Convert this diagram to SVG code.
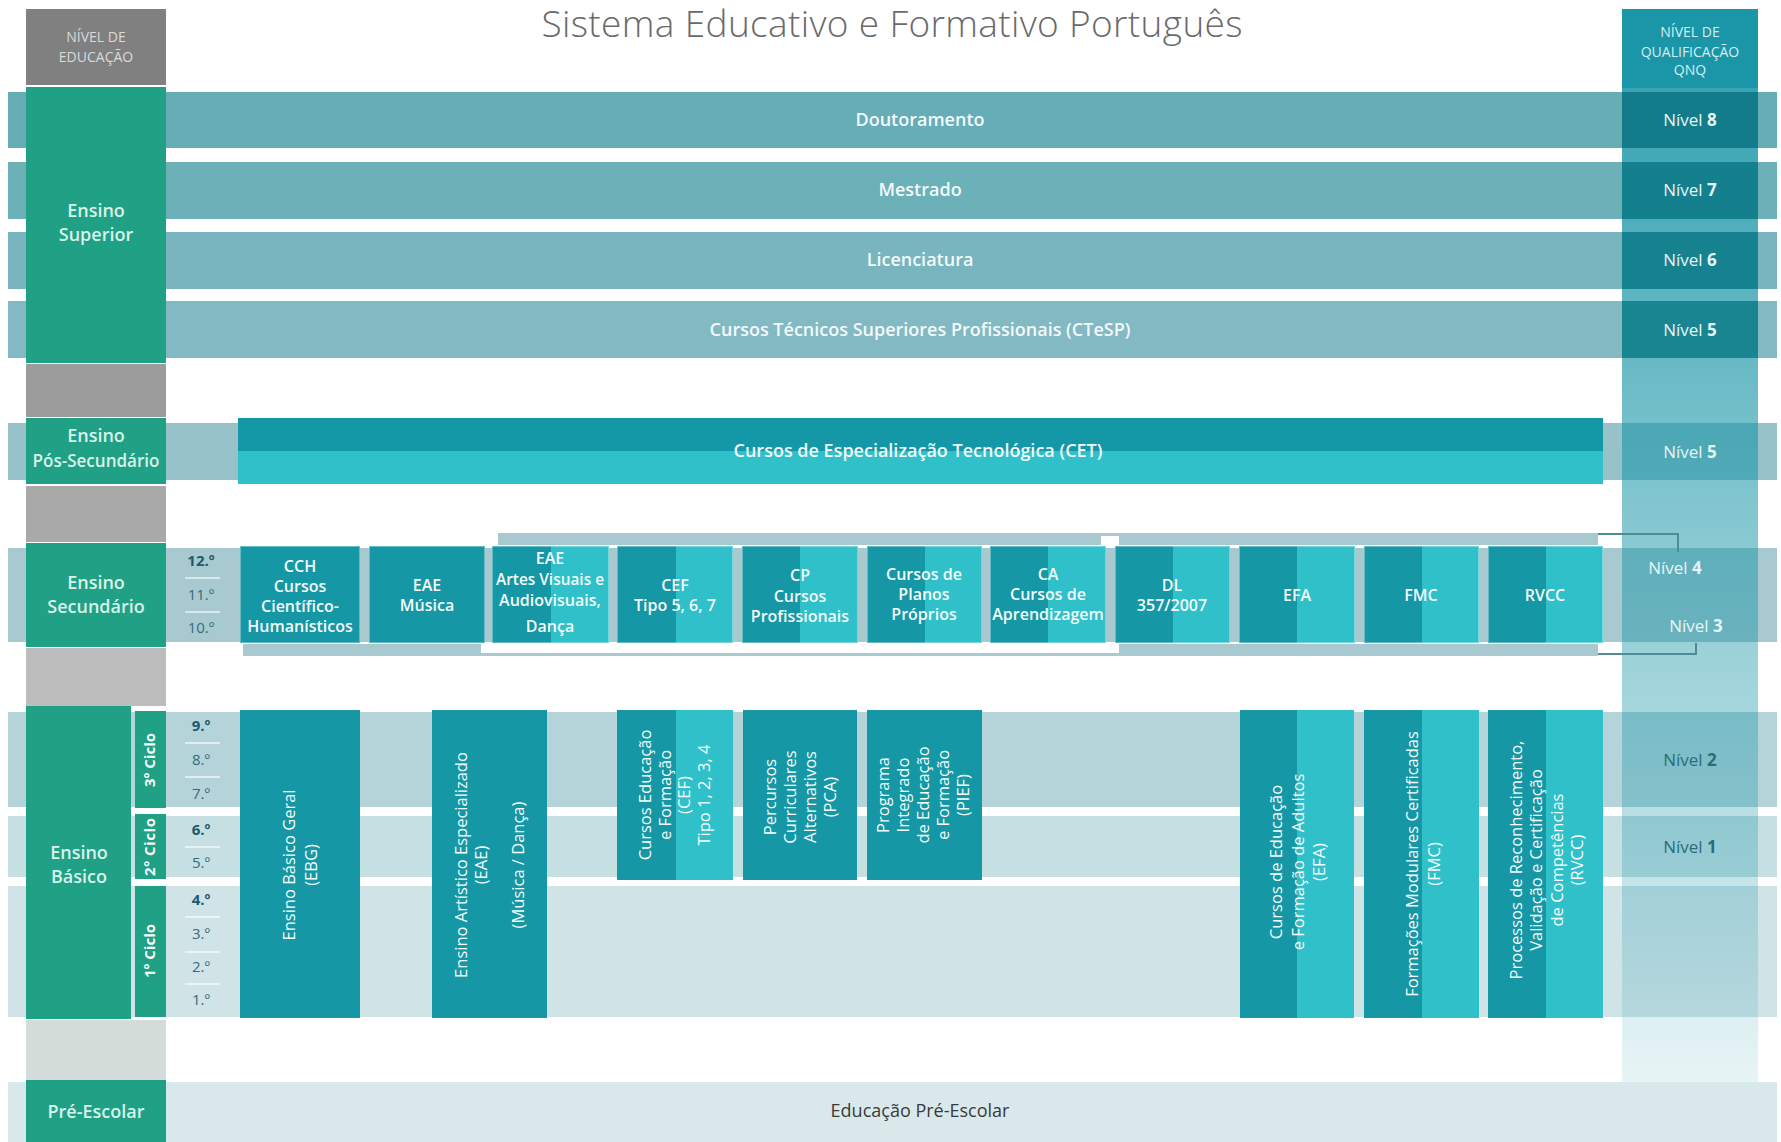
<svg xmlns="http://www.w3.org/2000/svg" width="1781" height="1142" viewBox="0 0 1781 1142">
<style>
text{font-family:"Open Sans","Noto Sans","Liberation Sans",sans-serif}
.lvl{fill:#20a085}
.lvlt{fill:#d8f3ea;font-size:18px;font-weight:600;text-anchor:middle}
.bart{fill:#f2fafb;font-size:18px;font-weight:600;text-anchor:middle}
.dk{fill:#1597a5}
.lt{fill:#2fc0ca}
.bx{fill:none;stroke:#ffffff;stroke-opacity:.35;stroke-width:1}
.bt{fill:#f4fcfc;font-size:16px;font-weight:600;text-anchor:middle}
.rt{fill:#f4fcfc;font-size:16.5px;font-weight:500;text-anchor:middle}
.cic{fill:#f2fbf8;font-size:15px;font-weight:700;text-anchor:middle}
.gr{fill:#336d7c;font-size:15px;text-anchor:middle}
.grb{fill:#1d5a6c;font-size:15px;font-weight:700;text-anchor:middle}
.sep{stroke:#ffffff;stroke-opacity:.8;stroke-width:1.5}
.nv{fill:#e6f5f7;font-size:17px;text-anchor:middle}
.nvd{fill:#2b6d7b;font-size:17px;text-anchor:middle}
.hd{font-size:14px;text-anchor:middle}
.strip{fill:#a8c9cf}
.brk{fill:none;stroke:#4f8c96;stroke-width:2}
</style>
<defs>
<linearGradient id="colGrad" gradientUnits="userSpaceOnUse" x1="0" y1="88" x2="0" y2="1082">
<stop offset="0" stop-color="#1a96a8" stop-opacity="0.87"/>
<stop offset="1" stop-color="#1a96a8" stop-opacity="0.1"/>
</linearGradient>
</defs>
<rect width="1781" height="1142" fill="#ffffff"/>

<text x="892" y="37" font-size="37" font-weight="300" fill="#6a6a6a" text-anchor="middle" textLength="701">Sistema Educativo e Formativo Português</text>

<g id="bands">
<rect x="8" y="92" width="1769" height="56" fill="#67adb5"/>
<rect x="8" y="162" width="1769" height="57" fill="#6cb0b8"/>
<rect x="8" y="232" width="1769" height="57" fill="#78b5bf"/>
<rect x="8" y="301" width="1769" height="57" fill="#82b9c3"/>
<rect x="8" y="423" width="1769" height="57" fill="#97c2c9"/>
<rect x="8" y="548" width="1769" height="94" fill="#a8c9cf"/>
<rect x="8" y="712" width="1769" height="95" fill="#b5d4da"/>
<rect x="8" y="816" width="1769" height="61" fill="#c5dfe3"/>
<rect x="8" y="886" width="1769" height="131" fill="#d0e3e7"/>
<rect x="8" y="1082" width="1769" height="60" fill="#d9e9eb"/>
</g>

<g id="left-column">
<rect x="26" y="9" width="140" height="76" fill="#808080"/>
<text class="hd" x="96" y="42" fill="#dadada">NÍVEL DE</text>
<text class="hd" x="96" y="62" fill="#dadada">EDUCAÇÃO</text>
<rect x="26" y="364" width="140" height="53" fill="#9c9c9c"/>
<rect x="26" y="486" width="140" height="56" fill="#a9a9a9"/>
<rect x="26" y="648" width="140" height="58" fill="#bcbcbc"/>
<rect x="26" y="1020" width="140" height="60" fill="#d3dcd9"/>
</g>

<g id="right-column">
<rect x="1622" y="88" width="136" height="994" fill="url(#colGrad)"/>
<rect x="1622" y="92" width="136" height="56" fill="#127c8a"/>
<rect x="1622" y="162" width="136" height="57" fill="#147f8d"/>
<rect x="1622" y="232" width="136" height="57" fill="#16828f"/>
<rect x="1622" y="301" width="136" height="57" fill="#198591"/>
<rect x="1622" y="9" width="136" height="79" fill="#1a96a8"/>
<text class="hd" x="1690" y="37" fill="#d6eef1">NÍVEL DE</text>
<text class="hd" x="1690" y="57" fill="#d6eef1">QUALIFICAÇÃO</text>
<text class="hd" x="1690" y="75" fill="#d6eef1">QNQ</text>
<text class="nv" x="1690" y="126">Nível <tspan font-weight="700">8</tspan></text>
<text class="nv" x="1690" y="196">Nível <tspan font-weight="700">7</tspan></text>
<text class="nv" x="1690" y="266">Nível <tspan font-weight="700">6</tspan></text>
<text class="nv" x="1690" y="336">Nível <tspan font-weight="700">5</tspan></text>
<text class="nv" x="1690" y="458">Nível <tspan font-weight="700">5</tspan></text>
<text class="nv" x="1675" y="574">Nível <tspan font-weight="700">4</tspan></text>
<text class="nv" x="1696" y="632">Nível <tspan font-weight="700">3</tspan></text>
<text class="nvd" x="1690" y="766">Nível <tspan font-weight="700">2</tspan></text>
<text class="nvd" x="1690" y="853">Nível <tspan font-weight="700">1</tspan></text>
</g>

<g id="connectors">
<rect class="strip" x="498" y="533" width="1100" height="12"/>
<rect x="1101" y="536" width="18" height="9" fill="#ffffff"/>
<rect class="strip" x="243" y="644" width="1355" height="12"/>
<rect x="481" y="644" width="638" height="9" fill="#ffffff"/>
<path class="brk" d="M1598 534 H1678 V552"/>
<path class="brk" d="M1598 654 H1696 V643"/>
</g>

<g id="superior">
<rect class="lvl" x="26" y="87" width="140" height="276"/>
<text class="lvlt" x="96" y="217">Ensino</text>
<text class="lvlt" x="96" y="241">Superior</text>
<text class="bart" x="920" y="126">Doutoramento</text>
<text class="bart" x="920" y="196">Mestrado</text>
<text class="bart" x="920" y="266">Licenciatura</text>
<text class="bart" x="920" y="336">Cursos Técnicos Superiores Profissionais (CTeSP)</text>
</g>

<g id="pos-secundario">
<rect class="lvl" x="26" y="418" width="140" height="66"/>
<text class="lvlt" x="96" y="442" font-size="17">Ensino</text>
<text class="lvlt" x="96" y="467" font-size="17" textLength="127" lengthAdjust="spacingAndGlyphs">Pós-Secundário</text>
</g>
<g id="cet">
<rect x="238" y="418" width="1365" height="33" fill="#1497a6"/>
<rect x="238" y="451" width="1365" height="33" fill="#2fc0ca"/>
<text class="bart" x="918" y="457">Cursos de Especialização Tecnológica (CET)</text>
</g>

<g id="secundario">
<rect class="lvl" x="26" y="543" width="140" height="104"/>
<text class="lvlt" x="96" y="589">Ensino</text>
<text class="lvlt" x="96" y="613">Secundário</text>
<text class="grb" x="201" y="566">12.º</text>
<line class="sep" x1="185" y1="578" x2="220" y2="578"/>
<text class="gr" x="201" y="600">11.º</text>
<line class="sep" x1="185" y1="612" x2="220" y2="612"/>
<text class="gr" x="201" y="633">10.º</text>
</g>

<g id="cch">
<rect class="dk" x="240" y="546" width="120" height="97"/>
<rect class="bx" x="240.5" y="546.5" width="119" height="96"/>
<text class="bt" x="300" y="572">CCH</text>
<text class="bt" x="300" y="592">Cursos</text>
<text class="bt" x="300" y="612">Científico-</text>
<text class="bt" x="300" y="632">Humanísticos</text>
</g>
<g id="eae-musica">
<rect class="dk" x="369" y="546" width="116" height="97"/>
<rect class="bx" x="369.5" y="546.5" width="115" height="96"/>
<text class="bt" x="427" y="591">EAE</text>
<text class="bt" x="427" y="611">Música</text>
</g>
<g id="eae-artes">
<rect class="dk" x="492" y="546" width="59" height="97"/>
<rect class="lt" x="551" y="546" width="58" height="97"/>
<rect class="bx" x="492.5" y="546.5" width="116" height="96"/>
<text class="bt" x="550" y="564" font-size="14.5">EAE</text>
<text class="bt" x="550" y="585" font-size="14" textLength="108" lengthAdjust="spacingAndGlyphs">Artes Visuais e</text>
<text class="bt" x="550" y="606" font-size="14">Audiovisuais,</text>
<text class="bt" x="550" y="632" font-size="14.5">Dança</text>
</g>
<g id="cef-567">
<rect class="dk" x="617" y="546" width="59" height="97"/>
<rect class="lt" x="676" y="546" width="57" height="97"/>
<rect class="bx" x="617.5" y="546.5" width="115" height="96"/>
<text class="bt" x="675" y="591">CEF</text>
<text class="bt" x="675" y="611">Tipo 5, 6, 7</text>
</g>
<g id="cp">
<rect class="dk" x="742" y="546" width="58" height="97"/>
<rect class="lt" x="800" y="546" width="58" height="97"/>
<rect class="bx" x="742.5" y="546.5" width="115" height="96"/>
<text class="bt" x="800" y="581">CP</text>
<text class="bt" x="800" y="602">Cursos</text>
<text class="bt" x="800" y="622">Profissionais</text>
</g>
<g id="planos-proprios">
<rect class="dk" x="867" y="546" width="58" height="97"/>
<rect class="lt" x="925" y="546" width="57" height="97"/>
<rect class="bx" x="867.5" y="546.5" width="114" height="96"/>
<text class="bt" x="924" y="580">Cursos de</text>
<text class="bt" x="924" y="600">Planos</text>
<text class="bt" x="924" y="620">Próprios</text>
</g>
<g id="ca">
<rect class="dk" x="990" y="546" width="58" height="97"/>
<rect class="lt" x="1048" y="546" width="58" height="97"/>
<rect class="bx" x="990.5" y="546.5" width="115" height="96"/>
<text class="bt" x="1048" y="580">CA</text>
<text class="bt" x="1048" y="600">Cursos de</text>
<text class="bt" x="1048" y="620">Aprendizagem</text>
</g>
<g id="dl">
<rect class="dk" x="1115" y="546" width="58" height="97"/>
<rect class="lt" x="1173" y="546" width="57" height="97"/>
<rect class="bx" x="1115.5" y="546.5" width="114" height="96"/>
<text class="bt" x="1172" y="591">DL</text>
<text class="bt" x="1172" y="611">357/2007</text>
</g>
<g id="efa-sec">
<rect class="dk" x="1239" y="546" width="58" height="97"/>
<rect class="lt" x="1297" y="546" width="58" height="97"/>
<rect class="bx" x="1239.5" y="546.5" width="115" height="96"/>
<text class="bt" x="1297" y="601">EFA</text>
</g>
<g id="fmc-sec">
<rect class="dk" x="1364" y="546" width="58" height="97"/>
<rect class="lt" x="1422" y="546" width="57" height="97"/>
<rect class="bx" x="1364.5" y="546.5" width="114" height="96"/>
<text class="bt" x="1421" y="601">FMC</text>
</g>
<g id="rvcc-sec">
<rect class="dk" x="1488" y="546" width="58" height="97"/>
<rect class="lt" x="1546" y="546" width="57" height="97"/>
<rect class="bx" x="1488.5" y="546.5" width="114" height="96"/>
<text class="bt" x="1545" y="601">RVCC</text>
</g>

<g id="basico">
<rect class="lvl" x="26" y="706" width="105" height="313"/>
<text class="lvlt" x="79" y="859">Ensino</text>
<text class="lvlt" x="79" y="883">Básico</text>
<rect class="lvl" x="135" y="711" width="31" height="97"/>
<text class="cic" transform="translate(150 760) rotate(-90)" y="5">3º Ciclo</text>
<rect class="lvl" x="135" y="814" width="31" height="65"/>
<text class="cic" transform="translate(150 847) rotate(-90)" y="5" font-size="14" textLength="58">2º Ciclo</text>
<rect class="lvl" x="135" y="886" width="31" height="131"/>
<text class="cic" transform="translate(150 951) rotate(-90)" y="5">1º Ciclo</text>
<text class="grb" x="201" y="731">9.º</text>
<line class="sep" x1="185" y1="743" x2="220" y2="743"/>
<text class="gr" x="201" y="765">8.º</text>
<line class="sep" x1="185" y1="777" x2="220" y2="777"/>
<text class="gr" x="201" y="799">7.º</text>
<text class="grb" x="201" y="835">6.º</text>
<line class="sep" x1="185" y1="847" x2="220" y2="847"/>
<text class="gr" x="201" y="868">5.º</text>
<text class="grb" x="201" y="905">4.º</text>
<line class="sep" x1="185" y1="917" x2="220" y2="917"/>
<text class="gr" x="201" y="939">3.º</text>
<line class="sep" x1="185" y1="952" x2="220" y2="952"/>
<text class="gr" x="201" y="972">2.º</text>
<line class="sep" x1="185" y1="984" x2="220" y2="984"/>
<text class="gr" x="201" y="1005">1.º</text>
</g>

<g id="ebg">
<rect class="dk" x="240" y="710" width="120" height="308"/>
<text class="rt" transform="translate(300 865) rotate(-90)"><tspan x="0" y="-5">Ensino Básico Geral</tspan><tspan x="0" y="17">(EBG)</tspan></text>
</g>
<g id="eae-basico">
<rect class="dk" x="432" y="710" width="115" height="308"/>
<text class="rt" transform="translate(489.5 865) rotate(-90)"><tspan x="0" y="-23">Ensino Artístico Especializado</tspan><tspan x="0" y="-3">(EAE)</tspan><tspan x="0" y="34">(Música / Dança)</tspan></text>
</g>
<g id="cef-1234">
<rect class="dk" x="617" y="710" width="59" height="170"/>
<rect class="lt" x="676" y="710" width="57" height="170"/>
<text class="rt" transform="translate(675 795) rotate(-90)"><tspan x="0" y="-24">Cursos Educação</tspan><tspan x="0" y="-4">e Formação</tspan><tspan x="0" y="15">(CEF)</tspan><tspan x="0" y="35">Tipo 1, 2, 3, 4</tspan></text>
</g>
<g id="pca">
<rect class="dk" x="743" y="710" width="114" height="170"/>
<text class="rt" transform="translate(800 797) rotate(-90)"><tspan x="0" y="-24">Percursos</tspan><tspan x="0" y="-4">Curriculares</tspan><tspan x="0" y="16">Alternativos</tspan><tspan x="0" y="36">(PCA)</tspan></text>
</g>
<g id="pief">
<rect class="dk" x="867" y="710" width="115" height="170"/>
<text class="rt" transform="translate(923 795) rotate(-90)"><tspan x="0" y="-34">Programa</tspan><tspan x="0" y="-14">Integrado</tspan><tspan x="0" y="6">de Educação</tspan><tspan x="0" y="26">e Formação</tspan><tspan x="0" y="46">(PIEF)</tspan></text>
</g>
<g id="efa">
<rect class="dk" x="1240" y="710" width="57" height="308"/>
<rect class="lt" x="1297" y="710" width="57" height="308"/>
<text class="rt" transform="translate(1298 862) rotate(-90)"><tspan x="0" y="-16">Cursos de Educação</tspan><tspan x="0" y="6">e Formação de Adultos</tspan><tspan x="0" y="27">(EFA)</tspan></text>
</g>
<g id="fmc">
<rect class="dk" x="1364" y="710" width="58" height="308"/>
<rect class="lt" x="1422" y="710" width="57" height="308"/>
<text class="rt" transform="translate(1424 864) rotate(-90)"><tspan x="0" y="-6">Formações Modulares Certificadas</tspan><tspan x="0" y="16">(FMC)</tspan></text>
</g>
<g id="rvcc">
<rect class="dk" x="1488" y="710" width="58" height="308"/>
<rect class="lt" x="1546" y="710" width="57" height="308"/>
<text class="rt" transform="translate(1547 860) rotate(-90)"><tspan x="0" y="-25">Processos de Reconhecimento,</tspan><tspan x="0" y="-5">Validação e Certificação</tspan><tspan x="0" y="16">de Competências</tspan><tspan x="0" y="36">(RVCC)</tspan></text>
</g>

<g id="pre-escolar">
<rect class="lvl" x="26" y="1080" width="140" height="62"/>
<text class="lvlt" x="96" y="1118">Pré-Escolar</text>
<text x="920" y="1117" font-size="18" fill="#3a3a3a" text-anchor="middle">Educação Pré-Escolar</text>
</g>
</svg>
